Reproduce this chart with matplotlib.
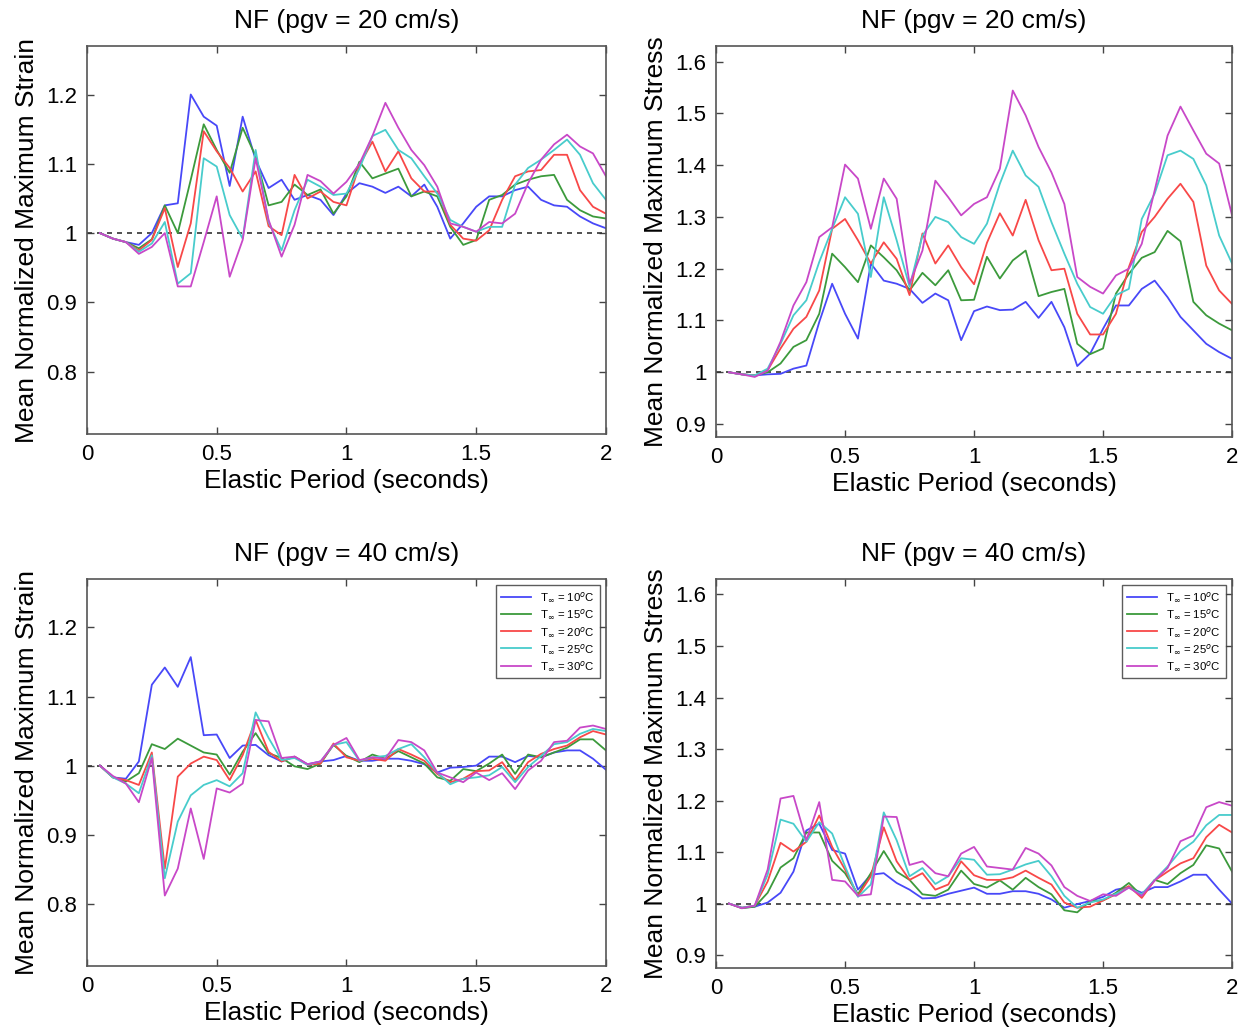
import numpy as np
import matplotlib
matplotlib.use("Agg")
import matplotlib.pyplot as plt

plt.rcParams['font.family'] = ['Liberation Sans', 'DejaVu Sans']

# elastic period grid (seconds)
period = np.arange(1, 41) * 0.05

temps = ['10', '15', '20', '25', '30']
colors = ['#4848f8', '#3c9a3c', '#f84848', '#48cccc', '#c848c8']

# pgv = 20 cm/s, strain
strain20_t10 = [1.0, 0.992, 0.987, 0.983, 1.0, 1.04, 1.043, 1.2, 1.168, 1.155, 1.068, 1.168, 1.106, 1.065, 1.077, 1.048, 1.055, 1.048, 1.026,
                1.057, 1.072, 1.067, 1.058, 1.067, 1.053, 1.07, 1.038, 0.992, 1.014, 1.038, 1.053, 1.053, 1.062, 1.067, 1.048, 1.04, 1.038, 1.024, 1.014, 1.007]
strain20_t15 = [1.0, 0.992, 0.987, 0.978, 0.991, 1.04, 1.0, 1.077, 1.157, 1.12, 1.087, 1.152, 1.111, 1.04, 1.045, 1.07, 1.055, 1.063, 1.028,
                1.053, 1.103, 1.079, 1.086, 1.093, 1.053, 1.06, 1.053, 1.009, 0.983, 0.99, 1.048, 1.055, 1.07, 1.077, 1.082, 1.084, 1.048, 1.033, 1.024, 1.021]
strain20_t20 = [1.0, 0.992, 0.987, 0.975, 0.99, 1.036, 0.951, 1.014, 1.147, 1.118, 1.094, 1.06, 1.089, 1.01, 0.997, 1.084, 1.05, 1.06, 1.045,
                1.04, 1.098, 1.132, 1.089, 1.118, 1.079, 1.06, 1.06, 1.012, 0.992, 0.989, 1.004, 1.048, 1.082, 1.089, 1.091, 1.113, 1.113, 1.062, 1.038, 1.028]
strain20_t25 = [1.0, 0.992, 0.987, 0.973, 0.985, 1.016, 0.927, 0.942, 1.108, 1.096, 1.026, 0.992, 1.12, 1.016, 0.975, 1.033, 1.077, 1.067, 1.055,
                1.057, 1.093, 1.14, 1.149, 1.12, 1.108, 1.082, 1.057, 1.019, 1.009, 1.002, 1.009, 1.009, 1.07, 1.094, 1.106, 1.12, 1.135, 1.113, 1.072, 1.048]
strain20_t30 = [1.0, 0.992, 0.987, 0.97, 0.98, 1.0, 0.923, 0.923, 0.987, 1.053, 0.937, 0.99, 1.108, 1.019, 0.966, 1.012, 1.084, 1.075, 1.057,
                1.074, 1.1, 1.14, 1.188, 1.152, 1.12, 1.098, 1.067, 1.014, 1.009, 1.002, 1.016, 1.014, 1.028, 1.072, 1.106, 1.128, 1.142, 1.125, 1.115, 1.082]

# pgv = 20 cm/s, stress
stress20_t10 = [1.0, 0.996, 0.994, 0.996, 0.997, 1.007, 1.013, 1.097, 1.171, 1.113, 1.065, 1.21, 1.177, 1.171, 1.161, 1.134, 1.152, 1.139, 1.062,
                1.118, 1.127, 1.12, 1.121, 1.136, 1.105, 1.136, 1.087, 1.012, 1.036, 1.084, 1.129, 1.129, 1.161, 1.177, 1.145, 1.107, 1.081, 1.055, 1.039, 1.026]
stress20_t15 = [1.0, 0.996, 0.994, 1.0, 1.017, 1.049, 1.062, 1.113, 1.229, 1.203, 1.174, 1.245, 1.222, 1.197, 1.158, 1.192, 1.168, 1.197, 1.139,
                1.14, 1.223, 1.181, 1.216, 1.235, 1.147, 1.155, 1.161, 1.055, 1.035, 1.046, 1.152, 1.19, 1.221, 1.232, 1.273, 1.253, 1.136, 1.11, 1.094, 1.081]
stress20_t20 = [1.0, 0.996, 0.994, 1.004, 1.046, 1.084, 1.107, 1.158, 1.277, 1.296, 1.255, 1.21, 1.251, 1.219, 1.149, 1.268, 1.21, 1.245, 1.203,
                1.17, 1.25, 1.307, 1.264, 1.333, 1.255, 1.197, 1.2, 1.113, 1.073, 1.073, 1.113, 1.203, 1.271, 1.3, 1.335, 1.364, 1.329, 1.206, 1.158, 1.132]
stress20_t25 = [1.0, 0.996, 0.994, 1.007, 1.055, 1.11, 1.139, 1.213, 1.277, 1.338, 1.306, 1.184, 1.338, 1.255, 1.165, 1.264, 1.3, 1.29, 1.261,
                1.248, 1.287, 1.364, 1.428, 1.38, 1.358, 1.29, 1.229, 1.171, 1.126, 1.113, 1.149, 1.161, 1.296, 1.345, 1.419, 1.428, 1.412, 1.361, 1.264, 1.21]
stress20_t30 = [1.0, 0.996, 0.991, 1.003, 1.059, 1.129, 1.174, 1.261, 1.28, 1.401, 1.374, 1.277, 1.374, 1.335, 1.171, 1.235, 1.37, 1.338, 1.303,
                1.325, 1.338, 1.393, 1.544, 1.496, 1.435, 1.386, 1.325, 1.184, 1.165, 1.152, 1.187, 1.2, 1.248, 1.351, 1.457, 1.513, 1.467, 1.422, 1.403, 1.303]

# pgv = 40 cm/s, strain
strain40_t10 = [1.0, 0.983, 0.981, 1.006, 1.117, 1.142, 1.114, 1.157, 1.044, 1.045, 1.011, 1.029, 1.03, 1.015, 1.006, 1.013, 1.002, 1.006, 1.008,
                1.014, 1.007, 1.007, 1.01, 1.01, 1.007, 1.002, 0.99, 0.997, 0.998, 1.0, 1.013, 1.013, 1.005, 1.014, 1.012, 1.019, 1.022, 1.022, 1.01, 0.994]
strain40_t15 = [1.0, 0.983, 0.977, 0.989, 1.031, 1.024, 1.039, 1.029, 1.019, 1.016, 0.987, 1.02, 1.047, 1.018, 1.011, 0.999, 0.995, 1.003, 1.03,
                1.014, 1.005, 1.016, 1.01, 1.021, 1.012, 1.003, 0.983, 0.978, 0.995, 0.992, 1.003, 1.016, 0.988, 1.016, 1.012, 1.019, 1.026, 1.038, 1.038, 1.022]
strain40_t20 = [1.0, 0.983, 0.979, 0.972, 1.019, 0.851, 0.984, 1.003, 1.013, 1.008, 0.979, 1.015, 1.066, 1.02, 1.006, 1.013, 1.001, 1.003, 1.032,
                1.012, 1.007, 1.01, 1.007, 1.024, 1.016, 1.007, 0.988, 0.976, 0.981, 0.992, 0.993, 1.005, 0.979, 1.005, 1.017, 1.024, 1.029, 1.041, 1.05, 1.045]
strain40_t25 = [1.0, 0.983, 0.974, 0.96, 1.015, 0.837, 0.919, 0.957, 0.972, 0.979, 0.97, 0.989, 1.077, 1.04, 1.008, 1.011, 1.001, 1.006, 1.03,
                1.034, 1.007, 1.012, 1.014, 1.024, 1.031, 1.012, 0.99, 0.973, 0.981, 0.983, 0.986, 0.998, 0.976, 0.998, 1.014, 1.031, 1.034, 1.046, 1.053, 1.05]
strain40_t30 = [1.0, 0.985, 0.974, 0.947, 1.011, 0.812, 0.851, 0.938, 0.865, 0.967, 0.961, 0.974, 1.066, 1.064, 1.011, 1.013, 1.002, 1.006, 1.03,
                1.04, 1.008, 1.012, 1.01, 1.037, 1.034, 1.022, 0.99, 0.983, 0.976, 0.99, 0.979, 0.989, 0.966, 0.993, 1.007, 1.034, 1.036, 1.055, 1.058, 1.053]

# pgv = 40 cm/s, stress
stress40_t10 = [1.0, 0.992, 0.994, 1.002, 1.021, 1.062, 1.142, 1.155, 1.104, 1.097, 1.027, 1.056, 1.059, 1.04, 1.027, 1.01, 1.011, 1.019, 1.025,
                1.031, 1.019, 1.019, 1.024, 1.024, 1.019, 1.008, 0.992, 0.999, 1.005, 1.013, 1.027, 1.032, 1.021, 1.032, 1.032, 1.043, 1.056, 1.056, 1.027, 1.0]
stress40_t15 = [1.0, 0.991, 0.994, 1.021, 1.07, 1.088, 1.138, 1.138, 1.083, 1.059, 1.018, 1.059, 1.102, 1.062, 1.046, 1.018, 1.015, 1.027, 1.064,
                1.038, 1.031, 1.045, 1.027, 1.05, 1.032, 1.018, 0.987, 0.983, 1.005, 1.006, 1.021, 1.04, 1.015, 1.046, 1.038, 1.059, 1.075, 1.113, 1.107, 1.062]
stress40_t20 = [1.0, 0.992, 0.996, 1.043, 1.118, 1.101, 1.12, 1.171, 1.11, 1.066, 1.015, 1.053, 1.148, 1.082, 1.046, 1.059, 1.027, 1.037, 1.082,
                1.055, 1.046, 1.046, 1.051, 1.064, 1.05, 1.037, 1.002, 0.992, 0.994, 1.006, 1.018, 1.034, 1.011, 1.045, 1.062, 1.078, 1.088, 1.129, 1.153, 1.138]
stress40_t25 = [1.0, 0.992, 0.996, 1.056, 1.163, 1.155, 1.12, 1.158, 1.136, 1.072, 1.013, 1.037, 1.177, 1.123, 1.053, 1.069, 1.038, 1.053, 1.088,
                1.085, 1.056, 1.057, 1.066, 1.076, 1.083, 1.053, 1.015, 0.992, 1.002, 1.008, 1.019, 1.031, 1.018, 1.046, 1.072, 1.102, 1.12, 1.152, 1.172, 1.172]
stress40_t30 = [1.0, 0.991, 0.996, 1.066, 1.204, 1.209, 1.123, 1.197, 1.046, 1.043, 1.015, 1.018, 1.169, 1.168, 1.075, 1.082, 1.059, 1.053, 1.097,
                1.11, 1.072, 1.069, 1.066, 1.108, 1.097, 1.074, 1.032, 1.015, 1.005, 1.018, 1.015, 1.031, 1.015, 1.045, 1.069, 1.121, 1.132, 1.187, 1.197, 1.19]

strain_ticks = [0.8, 0.9, 1, 1.1, 1.2]
stress_ticks = [0.9, 1, 1.1, 1.2, 1.3, 1.4, 1.5, 1.6]
x_ticks = [0, 0.5, 1, 1.5, 2]

panels = [
    ([0.0699, 0.5782, 0.4172, 0.3771], 'NF (pgv = 20 cm/s)', 'Mean Normalized Maximum Strain',
     [strain20_t10, strain20_t15, strain20_t20, strain20_t25, strain20_t30], (0.71, 1.27), strain_ticks, False),
    ([0.5756, 0.5753, 0.4148, 0.3800], 'NF (pgv = 20 cm/s)', 'Mean Normalized Maximum Stress',
     [stress20_t10, stress20_t15, stress20_t20, stress20_t25, stress20_t30], (0.875, 1.63), stress_ticks, False),
    ([0.0699, 0.0612, 0.4172, 0.3761], 'NF (pgv = 40 cm/s)', 'Mean Normalized Maximum Strain',
     [strain40_t10, strain40_t15, strain40_t20, strain40_t25, strain40_t30], (0.71, 1.27), strain_ticks, True),
    ([0.5756, 0.0593, 0.4148, 0.3780], 'NF (pgv = 40 cm/s)', 'Mean Normalized Maximum Stress',
     [stress40_t10, stress40_t15, stress40_t20, stress40_t25, stress40_t30], (0.875, 1.63), stress_ticks, True),
]

fig = plt.figure(figsize=(12.44, 10.29), dpi=100)

for pos, title, ylabel, series, ylim, yticks, show_legend in panels:
    ax = fig.add_axes(pos)
    ax.plot([0, 2], [1, 1], color='#333333', linestyle=(0, (3, 3)), linewidth=1.2)
    for vals, c, t in zip(series, colors, temps):
        ax.plot(period, vals, color=c, linewidth=1.3,
                label=r'T$_{\infty}$ = ' + t + r'$^{o}$C')
    ax.set_xlim(0, 2)
    ax.set_ylim(*ylim)
    ax.set_xticks(x_ticks)
    ax.set_xticklabels(['0', '0.5', '1', '1.5', '2'])
    ax.set_yticks(yticks)
    ax.set_yticklabels(['%g' % v for v in yticks])
    ax.tick_params(direction='in', top=True, right=True, length=5, width=1,
                   labelsize=16, color='#444444', pad=7)
    for s in ax.spines.values():
        s.set_color('#555555')
        s.set_linewidth(1.2)
    ax.set_title(title, fontsize=19, pad=13)
    ax.set_xlabel('Elastic Period (seconds)', fontsize=19, labelpad=3)
    ax.set_ylabel(ylabel, fontsize=19, labelpad=5)
    if show_legend:
        leg = ax.legend(loc='upper right', fontsize=8.2, frameon=True, fancybox=False,
                        handlelength=2.6, borderpad=0.45, labelspacing=0.3,
                        borderaxespad=0.55)
        leg.get_frame().set_edgecolor('#333333')
        leg.get_frame().set_linewidth(1.0)

fig.savefig('out.png', dpi=100)
